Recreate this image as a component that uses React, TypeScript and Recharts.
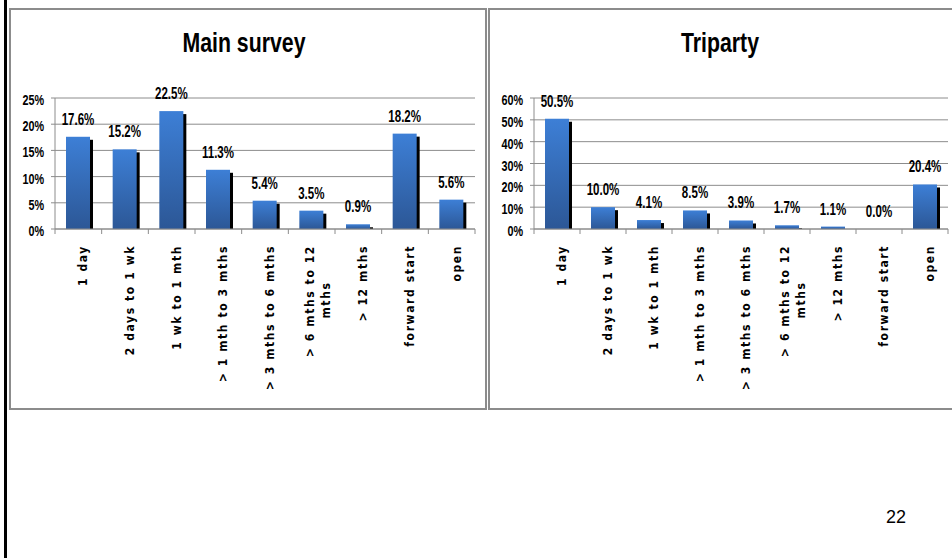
import React from 'react';
import { BarChart, Bar, XAxis, YAxis, CartesianGrid, LabelList } from 'recharts';

const categories = [
  '1 day',
  '2 days to 1 wk',
  '1 wk to 1 mth',
  '> 1 mth to 3 mths',
  '> 3 mths to 6 mths',
  '> 6 mths to 12 mths',
  '> 12 mths',
  'forward start',
  'open',
];
const mainSurvey = [17.6, 15.2, 22.5, 11.3, 5.4, 3.5, 0.9, 18.2, 5.6];
const triparty = [50.5, 10.0, 4.1, 8.5, 3.9, 1.7, 1.1, 0.0, 20.4];
const mainTicks = [0, 5, 10, 15, 20, 25];
const tripartyTicks = [0, 10, 20, 30, 40, 50, 60];

const LABEL_FONT = '"DejaVu Sans Condensed", "DejaVu Sans", sans-serif';
// narrow bold look: Liberation Sans squeezed horizontally
const NARROW_FONT = '"Liberation Sans", Arial, sans-serif';
const SQUEEZE = 0.72;
const GRID = '#8c8c8c';

const mainData = categories.map((name, i) => ({ name, value: mainSurvey[i] }));
const tripartyData = categories.map((name, i) => ({ name, value: triparty[i] }));

// blue bar with a black drop shadow on the right
const ShadowBar = (props: any) => {
  const { x, y, width, height } = props;
  if (!height || height <= 0) return null;
  return (
    <g>
      <rect x={x + 3} y={y + 3} width={width} height={Math.max(height - 3, 0)} fill="#000" />
      <rect x={x} y={y} width={width} height={height} fill="url(#barBlue)" />
    </g>
  );
};

const ValueLabel = (props: any) => {
  const { x, y, width, value } = props;
  const cx = Number(x) + Number(width) / 2;
  const cy = Number(y) - 12;
  return (
    <text
      transform={`translate(${cx}, ${cy}) scale(${SQUEEZE}, 1)`}
      textAnchor="middle"
      style={{ fill: '#000', fontFamily: NARROW_FONT, fontWeight: 700, fontSize: 16 }}
    >
      {`${Number(value).toFixed(1)}%`}
    </text>
  );
};

const PercentTick = (props: any) => {
  const { x, y, payload } = props;
  return (
    <text
      transform={`translate(${x}, ${y + 7}) scale(${SQUEEZE}, 1)`}
      textAnchor="end"
      style={{ fill: '#000', fontFamily: NARROW_FONT, fontWeight: 700, fontSize: 15 }}
    >
      {`${payload.value}%`}
    </text>
  );
};

// rotated category label + tick marks on the band boundaries
const CategoryTick = (props: any) => {
  const { x, y, payload, index, band } = props;
  const text: string = payload.value;
  const words = text.split(' ');
  const lines = text.length > 18 ? [words.slice(0, -1).join(' '), words[words.length - 1]] : [text];
  const left = x - band / 2;
  const isLast = index === categories.length - 1;
  const style = { fontFamily: LABEL_FONT, fontWeight: 700, fontSize: 12, letterSpacing: 1.6, fill: '#000' };
  return (
    <g>
      <line x1={left} y1={y} x2={left} y2={y + 5} stroke={GRID} />
      {isLast && <line x1={x + band / 2} y1={y} x2={x + band / 2} y2={y + 5} stroke={GRID} />}
      {lines.length === 1 ? (
        <text x={x + 9} y={y + 16} transform={`rotate(-90, ${x + 9}, ${y + 16})`} textAnchor="end" style={style}>
          {lines[0]}
        </text>
      ) : (
        <>
          <text x={x + 2} y={y + 16} transform={`rotate(-90, ${x + 2}, ${y + 16})`} textAnchor="end" style={style}>
            {lines[0]}
          </text>
          <text x={x + 18} y={y + 71} transform={`rotate(-90, ${x + 18}, ${y + 71})`} textAnchor="middle" style={style}>
            {lines[1]}
          </text>
        </>
      )}
    </g>
  );
};

function SurveyChart({
  data,
  ticks,
  width,
  yWidth,
  rightMargin,
}: {
  data: { name: string; value: number }[];
  ticks: number[];
  width: number;
  yWidth: number;
  rightMargin: number;
}) {
  const band = (width - yWidth - rightMargin) / data.length;
  return (
    <BarChart
      width={width}
      height={420}
      data={data}
      margin={{ top: 98, right: rightMargin, left: 0, bottom: 11 }}
      barSize={24}
    >
      <CartesianGrid vertical={false} stroke={GRID} />
      <XAxis
        dataKey="name"
        interval={0}
        height={180}
        tickLine={false}
        tickSize={0}
        tickMargin={0}
        axisLine={{ stroke: GRID }}
        tick={<CategoryTick band={band} />}
      />
      <YAxis
        width={yWidth}
        domain={[0, ticks[ticks.length - 1]]}
        ticks={ticks}
        interval={0}
        tickSize={4}
        tickMargin={7}
        axisLine={{ stroke: GRID }}
        tickLine={{ stroke: GRID }}
        tick={<PercentTick />}
      />
      <Bar dataKey="value" shape={<ShadowBar />} isAnimationActive={false}>
        <LabelList dataKey="value" content={<ValueLabel />} />
      </Bar>
    </BarChart>
  );
}

const titleStyle: React.CSSProperties = {
  position: 'absolute',
  top: 25,
  left: 0,
  right: 0,
  textAlign: 'center',
  fontFamily: NARROW_FONT,
  fontWeight: 700,
  fontSize: 28,
  lineHeight: '36px',
  color: '#000',
  transform: 'scaleX(0.76)',
};

export default function App() {
  return (
    <div style={{ position: 'absolute', left: 0, top: 0, width: 952, height: 558, background: '#fff', overflow: 'hidden' }}>
      <svg width={0} height={0} style={{ position: 'absolute' }}>
        <defs>
          <linearGradient id="barBlue" x1="0" y1="0" x2="0" y2="1">
            <stop offset="0%" stopColor="#3d7fd6" />
            <stop offset="100%" stopColor="#2c5796" />
          </linearGradient>
        </defs>
      </svg>

      {/* page edge */}
      <div style={{ position: 'absolute', left: 4, top: 0, width: 3, height: 558, background: '#000' }} />

      {/* panel frames */}
      <div style={{ position: 'absolute', left: 9, top: 8, width: 478, height: 402, boxSizing: 'border-box', border: '2px solid #8c8c8c' }} />
      <div style={{ position: 'absolute', left: 488, top: 8, width: 470, height: 402, boxSizing: 'border-box', border: '2px solid #8c8c8c' }} />

      <div style={{ position: 'absolute', left: 0, top: 0, width: 488, height: 420 }}>
        <div style={titleStyle}>Main survey</div>
        <SurveyChart data={mainData} ticks={mainTicks} width={488} yWidth={55} rightMargin={13} />
      </div>

      <div style={{ position: 'absolute', left: 488, top: 0, width: 464, height: 420 }}>
        <div style={titleStyle}>Triparty</div>
        <SurveyChart data={tripartyData} ticks={tripartyTicks} width={464} yWidth={46} rightMargin={4} />
      </div>

      <div
        style={{
          position: 'absolute',
          left: 886,
          top: 507,
          fontFamily: '"Liberation Sans", Arial, sans-serif',
          fontSize: 18,
          color: '#000',
        }}
      >
        22
      </div>
    </div>
  );
}
